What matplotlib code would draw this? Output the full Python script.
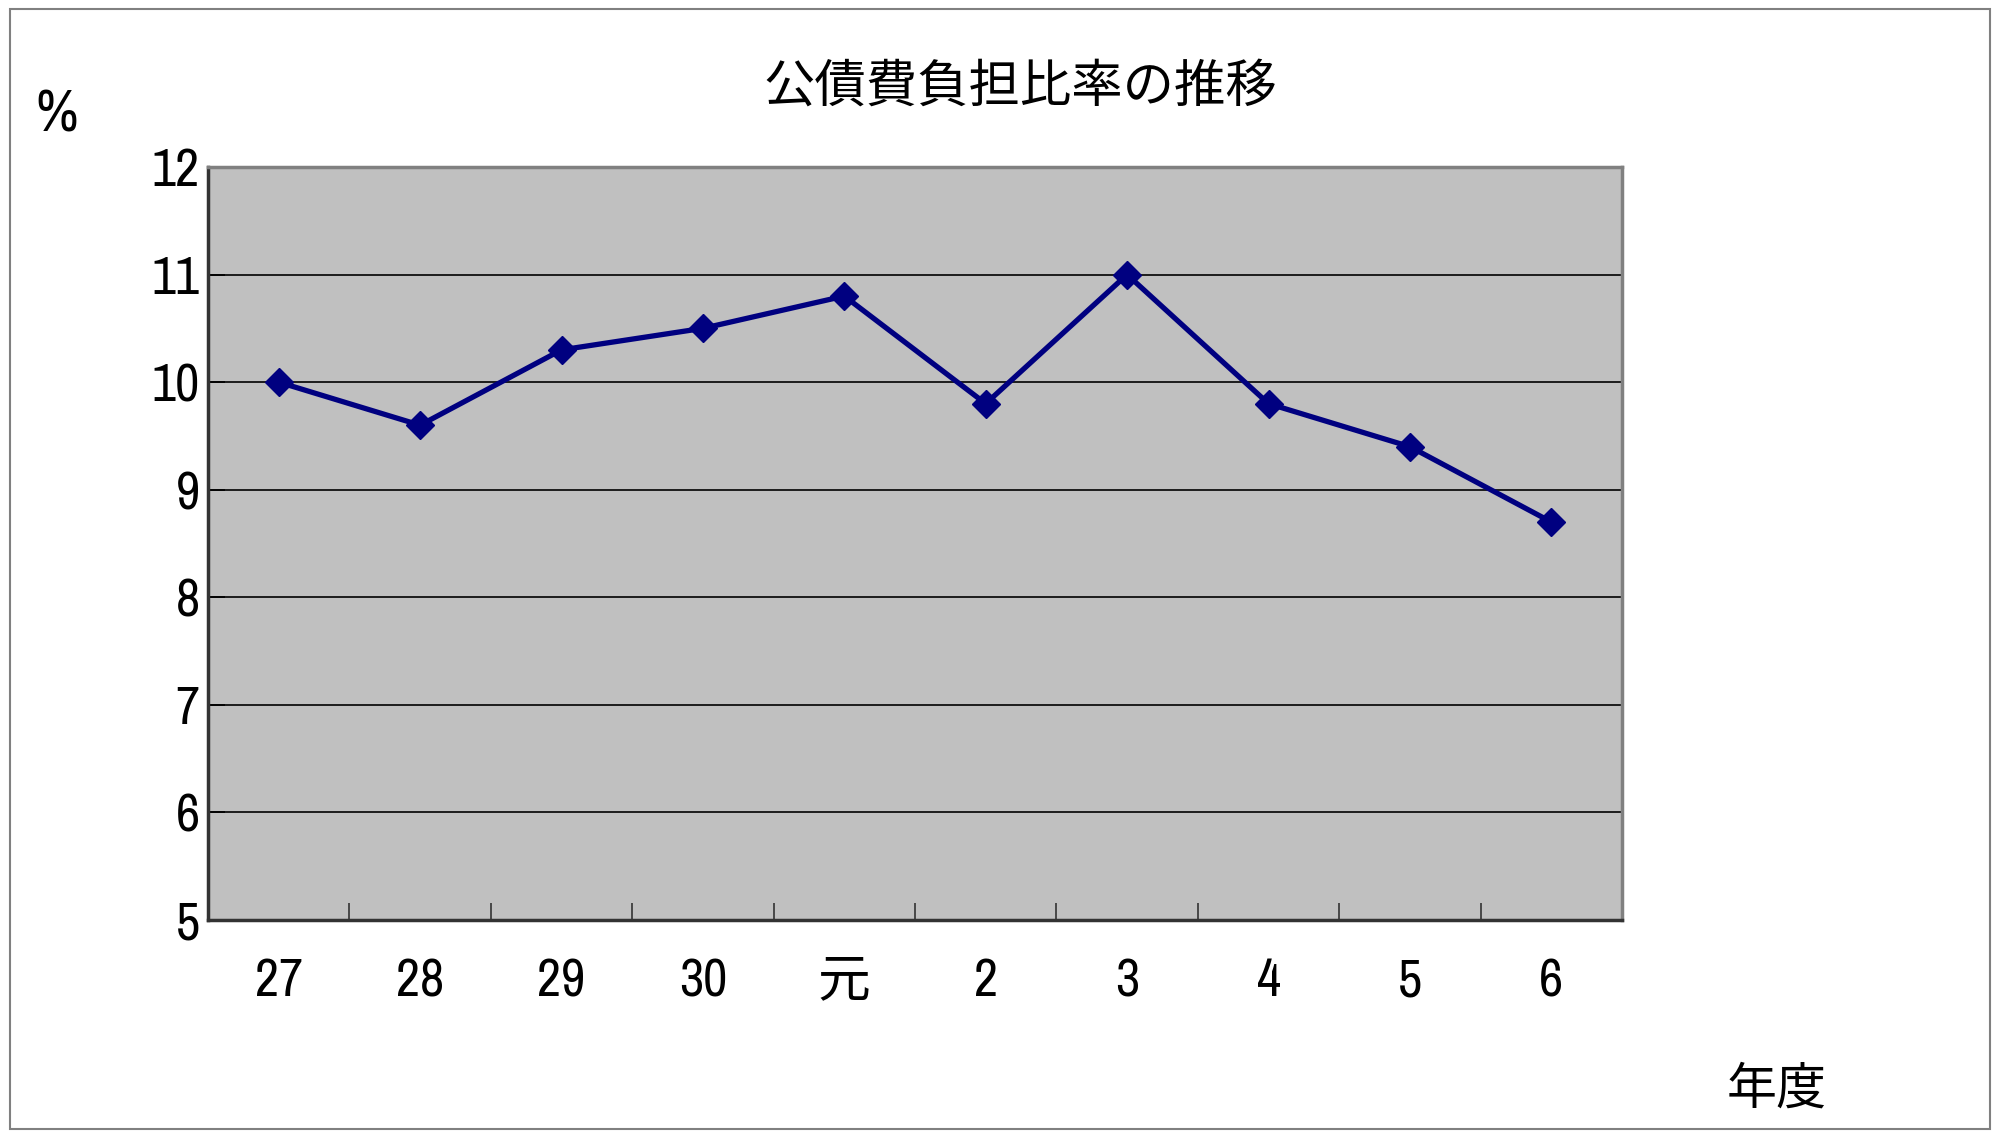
import matplotlib
matplotlib.use('Agg')
import matplotlib.pyplot as plt
from matplotlib.patches import Rectangle
import numpy as np

plt.rcParams['font.family'] = ['Archivo Narrow', 'Noto Sans CJK JP', 'DejaVu Sans']

years = ['27', '28', '29', '30', '元', '2', '3', '4', '5', '6']
ratio = [10.0, 9.6, 10.3, 10.5, 10.8, 9.8, 11.0, 9.8, 9.4, 8.7]
yticks = [5, 6, 7, 8, 9, 10, 11, 12]

fig = plt.figure(figsize=(20, 11.37), dpi=100)
ax = fig.add_axes([208 / 2000, 1 - 920 / 1137, (1622 - 208) / 2000, (920 - 167) / 1137])

# outer frame
fig.patches.append(Rectangle((10 / 2000, 8 / 1137), 1980 / 2000, 1120 / 1137,
                             transform=fig.transFigure, fill=False,
                             edgecolor='#808080', linewidth=1.5))

ax.set_facecolor('#C0C0C0')
x = np.arange(len(years))
ax.plot(x, ratio, color='#000080', linewidth=3.8, marker='D', markersize=14, zorder=3)

ax.set_xlim(-0.5, len(years) - 0.5)
ax.set_ylim(5, 12)
ax.set_yticks(yticks)
ax.set_yticklabels([str(v) for v in yticks], fontsize=38, fontweight='medium')
ax.yaxis.grid(True, color='black', linewidth=1.2)
ax.set_axisbelow(True)

ax.set_xticks(x)
ax.set_xticklabels(years, fontsize=38, fontweight='medium')
for lab in ax.get_xticklabels():
    if lab.get_text() == '元':
        lab.set_fontweight('normal')
ax.tick_params(axis='x', length=0, pad=27)
ax.set_xticks(x[:-1] + 0.5, minor=True)
ax.tick_params(axis='x', which='minor', direction='in', length=12, width=1.2, color='#333333')
ax.tick_params(axis='y', direction='in', length=12, width=1.2, pad=6)

for side in ['top', 'right']:
    ax.spines[side].set_color('#808080')
    ax.spines[side].set_linewidth(2.5)
for side in ['left', 'bottom']:
    ax.spines[side].set_color('#333333')
    ax.spines[side].set_linewidth(2.5)

fig.text(1020 / 2000, 1 - 87 / 1137, '公債費負担比率の推移', fontsize=37,
         ha='center', va='center', family=['Noto Sans CJK JP', 'DejaVu Sans'])
fig.text(57 / 2000, 1 - 115 / 1137, '%', fontsize=42, fontweight='medium',
         ha='center', va='center')
fig.text(1777 / 2000, 1 - 1090 / 1137, '年度', fontsize=36, ha='center', va='center',
         family=['Noto Sans CJK JP', 'DejaVu Sans'])

fig.savefig('out.png', dpi=100)
